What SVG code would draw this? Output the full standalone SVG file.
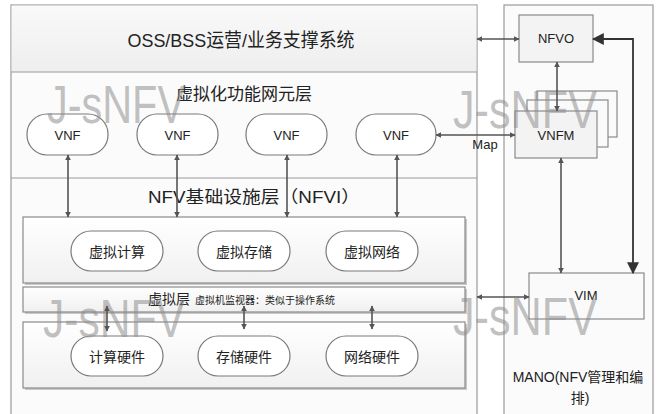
<svg xmlns="http://www.w3.org/2000/svg" width="659" height="414" viewBox="0 0 659 414">
<defs>
<linearGradient id="g" x1="0" y1="0" x2="0" y2="1"><stop offset="0" stop-color="#ffffff"/><stop offset="1" stop-color="#f0f0f0"/></linearGradient>
<linearGradient id="gb" x1="0" y1="0" x2="0" y2="1"><stop offset="0" stop-color="#f9f9f9"/><stop offset="1" stop-color="#eeeeee"/></linearGradient>
<marker id="a" viewBox="0 0 10 10" refX="9" refY="5" markerWidth="6" markerHeight="6" markerUnits="userSpaceOnUse" orient="auto-start-reverse"><path d="M0,0 L10,5 L0,10 z" fill="#555"/></marker>
<marker id="b" viewBox="0 0 10 10" refX="9" refY="5" markerWidth="12" markerHeight="12" markerUnits="userSpaceOnUse" orient="auto-start-reverse"><path d="M0,0 L10,5 L0,10 z" fill="#333"/></marker>
</defs>
<style>
.frame{fill:#fbfbfb;stroke:#9a9a9a;stroke-width:1.2}
.box{fill:url(#g);stroke:#8a8a8a;stroke-width:1.2}
.sh{fill:#c8c8c8}
.pill{fill:#ffffff;stroke:#7a7a7a;stroke-width:1.2}
.t{font-family:"Liberation Sans","Noto Sans CJK SC",sans-serif;fill:#222;text-anchor:middle}
.c{stroke:#555;stroke-width:1.6;fill:none;marker-start:url(#a);marker-end:url(#a)}
.wm{font-family:"Liberation Sans",sans-serif;font-size:53px;fill:#8c8c8c;fill-opacity:0.55}
</style>
<rect width="659" height="414" fill="#ffffff"/>
<!-- main left frame -->
<g id="main">
<rect class="frame" x="11" y="5" width="466" height="420"/>
<rect x="11.6" y="5.6" width="464.8" height="66.4" fill="url(#gb)"/>
<line x1="11" y1="72" x2="477" y2="72" stroke="#9a9a9a" stroke-width="1.2"/>
<line x1="11" y1="178" x2="477" y2="178" stroke="#9a9a9a" stroke-width="1.2"/>
</g>
<g id="mano">
<rect class="frame" x="504" y="5" width="149" height="420"/>
<text class="t" x="578" y="382" font-size="14">MANO(NFV管理和编</text>
<text class="t" x="580" y="403" font-size="14">排)</text>
</g>
<g id="oss"><text class="t" x="241" y="47" font-size="19" textLength="227" lengthAdjust="spacingAndGlyphs">OSS/BSS运营/业务支撑系统</text></g>
<g id="vnf-layer"><text class="t" x="244" y="100" font-size="17">虚拟化功能网元层</text></g>
<g id="nfvi-title"><text class="t" x="254" y="203" font-size="17" textLength="212" lengthAdjust="spacingAndGlyphs">NFV基础设施层（NFVI）</text></g>
<!-- VNFs -->
<g id="vnf1"><rect class="pill" x="27" y="114" width="81" height="41" rx="20"/><text class="t" x="67.5" y="140" font-size="13">VNF</text></g>
<g id="vnf2"><rect class="pill" x="137" y="114" width="81" height="41" rx="20"/><text class="t" x="177.5" y="140" font-size="13">VNF</text></g>
<g id="vnf3"><rect class="pill" x="246" y="114" width="81" height="41" rx="20"/><text class="t" x="286.5" y="140" font-size="13">VNF</text></g>
<g id="vnf4"><rect class="pill" x="356" y="114" width="80" height="41" rx="20"/><text class="t" x="396" y="140" font-size="13">VNF</text></g>
<!-- virtual resources -->
<g id="virt-res">
<rect class="sh" x="25" y="219" width="442" height="66"/>
<rect class="box" x="23" y="217" width="442" height="66"/>
</g>
<g id="vcompute"><rect class="pill" x="71" y="231" width="92" height="40" rx="20"/><text class="t" x="117" y="257" font-size="14">虚拟计算</text></g>
<g id="vstorage"><rect class="pill" x="198" y="231" width="92" height="40" rx="20"/><text class="t" x="244" y="257" font-size="14">虚拟存储</text></g>
<g id="vnetwork"><rect class="pill" x="326" y="231" width="92" height="40" rx="20"/><text class="t" x="372" y="257" font-size="14">虚拟网络</text></g>
<!-- virtualization layer -->
<g id="virt-layer">
<rect class="sh" x="25" y="289" width="442" height="25"/>
<rect class="box" x="23" y="287" width="442" height="25"/>
<text class="t" x="169" y="304" font-size="14">虚拟层</text>
<text class="t" x="265" y="304" font-size="10">虚拟机监视器：类似于操作系统</text>
</g>
<!-- hardware -->
<g id="hardware">
<rect class="sh" x="25" y="324" width="442" height="66"/>
<rect class="box" x="23" y="322" width="442" height="66"/>
</g>
<g id="hcompute"><rect class="pill" x="71" y="336" width="92" height="40" rx="20"/><text class="t" x="117" y="362" font-size="14">计算硬件</text></g>
<g id="hstorage"><rect class="pill" x="198" y="336" width="92" height="40" rx="20"/><text class="t" x="244" y="362" font-size="14">存储硬件</text></g>
<g id="hnetwork"><rect class="pill" x="326" y="336" width="92" height="40" rx="20"/><text class="t" x="372" y="362" font-size="14">网络硬件</text></g>
<!-- MANO nodes -->
<g id="nfvo"><rect x="519" y="15" width="74" height="47" fill="#f3f3f3" stroke="#8a8a8a" stroke-width="1.2"/><text class="t" x="556" y="43" font-size="13">NFVO</text></g>
<g id="vnfm">
<rect x="537" y="91" width="80" height="46" fill="#fafafa" stroke="#8a8a8a" stroke-width="1.2"/>
<rect x="527" y="100" width="81" height="47" fill="#fafafa" stroke="#8a8a8a" stroke-width="1.2"/>
<rect x="515" y="111" width="82" height="47" fill="#f3f3f3" stroke="#8a8a8a" stroke-width="1.2"/>
<text class="t" x="556" y="140" font-size="13">VNFM</text>
</g>
<g id="vim"><rect x="529" y="273" width="115" height="46" fill="#fafafa" stroke="#8a8a8a" stroke-width="1.2"/><text class="t" x="586" y="300" font-size="13">VIM</text></g>
<!-- watermarks -->
<g id="watermarks">
<text class="wm" x="47" y="123" textLength="138" lengthAdjust="spacingAndGlyphs">J-sNFV</text>
<text class="wm" x="453" y="128" textLength="144" lengthAdjust="spacingAndGlyphs">J-sNFV</text>
<text class="wm" x="43" y="337" textLength="142" lengthAdjust="spacingAndGlyphs">J-sNFV</text>
<text class="wm" x="453" y="335" textLength="144" lengthAdjust="spacingAndGlyphs">J-sNFV</text>
</g>
<!-- connectors -->
<g id="connectors">
<line class="c" x1="68" y1="155" x2="68" y2="217"/>
<line class="c" x1="177" y1="155" x2="177" y2="217"/>
<line class="c" x1="287" y1="155" x2="287" y2="217"/>
<line class="c" x1="397" y1="155" x2="397" y2="217"/>
<line class="c" x1="107" y1="306" x2="107" y2="331"/>
<line class="c" x1="244" y1="306" x2="244" y2="329"/>
<line class="c" x1="372" y1="306" x2="372" y2="329"/>
<line class="c" x1="477" y1="39" x2="519" y2="39"/>
<line class="c" x1="557" y1="62" x2="557" y2="111"/>
<line class="c" x1="436" y1="135" x2="515" y2="135"/>
<line class="c" x1="561" y1="158" x2="561" y2="273"/>
<line class="c" x1="477" y1="297" x2="529" y2="297"/>
<polyline points="593,39 633,39 633,273" fill="none" stroke="#333" stroke-width="1.8" marker-start="url(#b)" marker-end="url(#b)"/>
<text class="t" x="485" y="149" font-size="13">Map</text>
</g>
</svg>
